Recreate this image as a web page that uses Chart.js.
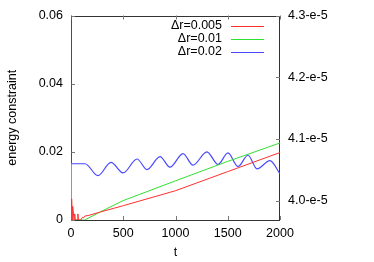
<!DOCTYPE html>
<html>
<head>
<meta charset="utf-8">
<script src="https://cdn.jsdelivr.net/npm/chart.js@4.4.0/dist/chart.umd.min.js"></script>
<style>
  html, body { margin: 0; padding: 0; background: #fff; }
  #wrap { width: 374px; height: 262px; }
</style>
</head>
<body>
<div id="wrap"><canvas id="c" width="374" height="262"></canvas></div>
<script>
// series (t, energy constraint)
const labels = ['\u0394r=0.005', '\u0394r=0.01', '\u0394r=0.02'];

const tRed = [0, 4, 6, 9, 12, 16, 30, 36, 40, 62, 66, 70, 93, 110, 120, 135, 163, 275, 500, 1000, 1500, 2000];
const eRed = [0, 0.0062, 0, 0.0058, 0, 0.004, 0, 0.0018, 0, 0, 0.0018, 0, 0, 0.0008, 0.0006, 0.0012, 0.0013, 0.0023, 0.0042, 0.0086, 0.0142, 0.0198];

const tGreen = [0, 3, 131, 275, 500, 1000, 1500, 2000];
const eGreen = [0.0165, 0, 0, 0.0023, 0.0057, 0.0115, 0.0172, 0.0226];

const tBlue = [0, 1, 134, 258, 383, 498, 632, 727, 852, 947, 1072, 1167, 1301, 1407, 1502, 1598, 1694, 1780, 1904, 2000];
const eBlue = [0.07, 0.0165, 0.0165, 0.013, 0.0169, 0.0138, 0.0179, 0.0148, 0.0186, 0.0155, 0.0195, 0.0161,
               0.0200, 0.0163, 0.0197, 0.0157, 0.0190, 0.0150, 0.0174, 0.0135];

const xTicks = [0, 500, 1000, 1500, 2000];
const yTicks = [0, 0.02, 0.04, 0.06];
const y2Ticks = [4.0, 4.1, 4.2, 4.3];   // in units of 1e-5

const colors = ['#ff3030', '#30e030', '#4848ff'];
const FONT = { family: 'Liberation Sans, Arial, sans-serif', size: 12.5 };

const pts = (ts, es) => ts.map((t, i) => ({ x: t, y: es[i] }));

// gnuplot style frame, inward ticks and legend inside the plot
const framePlugin = {
  id: 'frame',
  beforeDatasetsDraw(chart) {
    const { ctx, chartArea: a, scales } = chart;
    ctx.save();
    ctx.strokeStyle = '#333';
    ctx.lineWidth = 1;
    ctx.strokeRect(Math.round(a.left) + 0.5, Math.round(a.top) + 0.5,
                   Math.round(a.right - a.left) - 1, Math.round(a.bottom - a.top) - 1);
    ctx.strokeStyle = '#777';
    ctx.beginPath();
    const tl = 4;
    xTicks.forEach(v => {
      const x = Math.round(scales.x.getPixelForValue(v)) + 0.5;
      ctx.moveTo(x, a.bottom); ctx.lineTo(x, a.bottom - tl);
      ctx.moveTo(x, a.top); ctx.lineTo(x, a.top + tl);
    });
    yTicks.forEach(v => {
      const y = Math.round(scales.y.getPixelForValue(v)) + 0.5;
      ctx.moveTo(a.left, y); ctx.lineTo(a.left + tl, y);
    });
    y2Ticks.forEach(v => {
      const y = Math.round(scales.y2.getPixelForValue(v)) + 0.5;
      ctx.moveTo(a.right, y); ctx.lineTo(a.right - tl, y);
    });
    ctx.stroke();
    ctx.restore();
  },
  afterDraw(chart) {
    const { ctx, chartArea: a } = chart;
    ctx.save();
    ctx.font = FONT.size + 'px ' + FONT.family;
    ctx.textAlign = 'right';
    ctx.textBaseline = 'middle';
    chart.data.datasets.forEach((ds, i) => {
      const y = a.top + 10 + i * 13;
      ctx.fillStyle = '#000';
      ctx.fillText(ds.label, a.right - 58, y);
      ctx.strokeStyle = ds.borderColor;
      ctx.lineWidth = 1;
      ctx.beginPath();
      ctx.moveTo(a.right - 49, Math.round(y) + 0.5);
      ctx.lineTo(a.right - 16, Math.round(y) + 0.5);
      ctx.stroke();
    });
    ctx.restore();
  }
};

new Chart(document.getElementById('c'), {
  type: 'line',
  data: {
    datasets: [
      { label: labels[0], data: pts(tRed, eRed), borderColor: colors[0], borderWidth: 1, pointRadius: 0, tension: 0 },
      { label: labels[1], data: pts(tGreen, eGreen), borderColor: colors[1], borderWidth: 1, pointRadius: 0, tension: 0 },
      { label: labels[2], data: pts(tBlue, eBlue), borderColor: colors[2], borderWidth: 1.2, pointRadius: 0,
        cubicInterpolationMode: 'monotone' }
    ]
  },
  options: {
    responsive: false,
    animation: false,
    layout: { padding: { top: 13, left: 0, right: 0, bottom: 0 } },
    plugins: { legend: { display: false }, tooltip: { enabled: false } },
    scales: {
      x: {
        type: 'linear', min: 0, max: 2000,
        afterBuildTicks: s => { s.ticks = xTicks.map(v => ({ value: v })); },
        afterFit: s => { s.height = 42; },
        grid: { display: false, drawTicks: false },
        border: { display: false },
        ticks: { font: FONT, color: '#000', padding: 6, maxRotation: 0, callback: v => String(v) },
        title: { display: true, text: 't', font: FONT, color: '#000', padding: { top: 0, bottom: 2 } }
      },
      y: {
        type: 'linear', position: 'left', min: 0, max: 0.06,
        afterBuildTicks: s => { s.ticks = yTicks.map(v => ({ value: v })); },
        afterFit: s => { s.width = 71; },
        grid: { display: false, drawTicks: false },
        border: { display: false },
        ticks: { font: FONT, color: '#000', padding: 8, callback: v => String(+v.toFixed(2)) },
        title: { display: true, text: 'energy constraint', font: FONT, color: '#000', padding: { top: 5, bottom: 0 } }
      },
      y2: {
        type: 'linear', position: 'right', min: 3.9688, max: 4.3,
        afterBuildTicks: s => { s.ticks = y2Ticks.map(v => ({ value: v })); },
        afterFit: s => { s.width = 94; },
        grid: { display: false, drawTicks: false },
        border: { display: false },
        ticks: { font: FONT, color: '#000', padding: 8, callback: v => v.toFixed(1) + '-e-5' }
      }
    }
  },
  plugins: [framePlugin]
});
</script>
</body>
</html>
